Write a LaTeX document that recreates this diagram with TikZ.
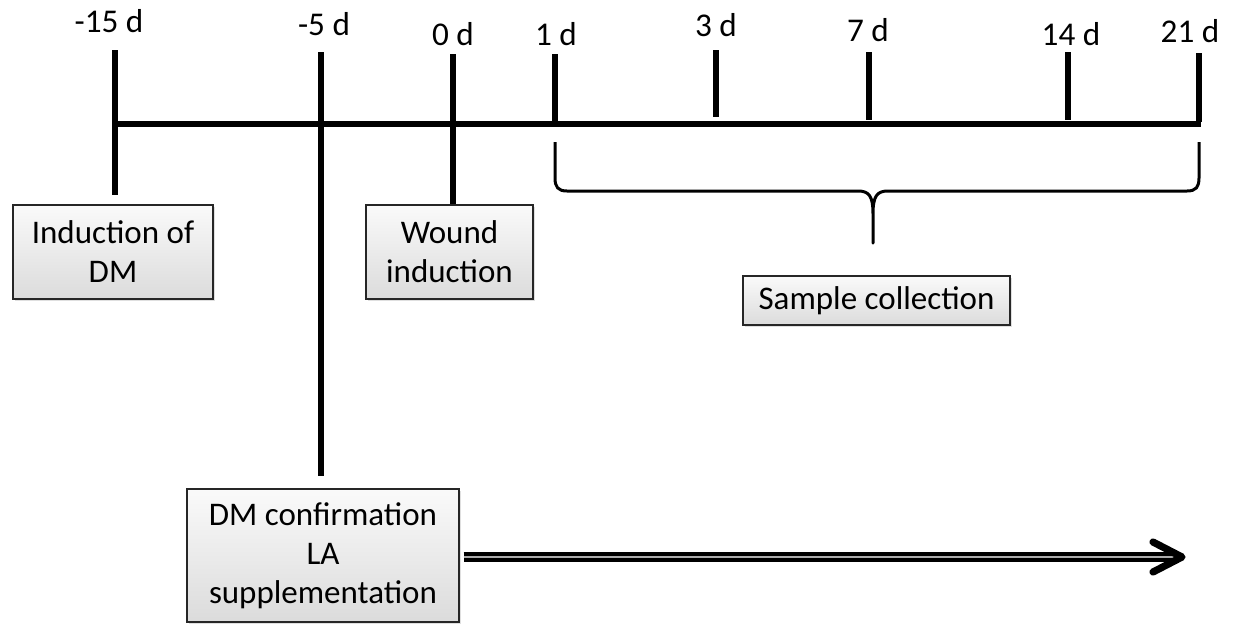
\documentclass[tikz,border=0pt]{standalone}
\usepackage{fontspec}
\setmainfont{Carlito}
\usetikzlibrary{shadows}
\begin{document}
\begin{tikzpicture}[x=0.5pt,y=-0.5pt,
  tick/.style={line width=2.6pt},
  axis/.style={line width=2.6pt},
  lbl/.style={anchor=base,inner sep=0pt,font=\fontsize{16.6}{19}\selectfont},
  box/.style={draw=black!85,line width=0.7pt,top color=gray!4,bottom color=gray!28,
    align=center,inner sep=0pt,font=\fontsize{16.5}{19.5}\selectfont,
    drop shadow={shadow xshift=1.2pt,shadow yshift=-1.2pt,opacity=0.25}},
  brace/.style={line width=1.5pt,line join=round},
  dbl/.style={draw=black,line width=1.8pt,double=gray!65,double distance=1.3pt},
  head/.style={line width=3.6pt,line cap=round,line join=round}]
\useasboundingbox (0,0) rectangle (1237,623);
% axis
\coordinate (aL) at (113,124);
\coordinate (aR) at (1201,124);
\draw[axis] (aL) -- (aR);
% tick coordinates
\coordinate (t15a) at (115,50);  \coordinate (t15b) at (115,195);
\coordinate (t5a)  at (321,52);  \coordinate (t5b)  at (321,476);
\coordinate (t0a)  at (453,54);  \coordinate (t0b)  at (453,205);
\coordinate (t1a)  at (555,54);  \coordinate (t1b)  at (555,124);
\coordinate (t3a)  at (716,50);  \coordinate (t3b)  at (716,117);
\coordinate (t7a)  at (869,52);  \coordinate (t7b)  at (869,120);
\coordinate (t14a) at (1068,52); \coordinate (t14b) at (1068,120);
\coordinate (t21a) at (1199,53); \coordinate (t21b) at (1199,122);
\foreach \t in {t15,t5,t0,t1,t3,t7,t14,t21}{\draw[tick] (\t a) -- (\t b);}
% labels
\node[lbl] (l15) at (109,32) {-15 d};
\node[lbl] (l5)  at (324,35) {-5 d};
\node[lbl] (l0)  at (453,45) {0 d};
\node[lbl] (l1)  at (556,45) {1 d};
\node[lbl] (l3)  at (716,36) {3 d};
\node[lbl] (l7)  at (868,41) {7 d};
\node[lbl] (l14) at (1071,45) {14 d};
\node[lbl] (l21) at (1190,42) {21 d};
% boxes
\node[box,minimum width=100pt,minimum height=47pt] (bDM) at (113,252) {Induction of\\DM};
\node[box,minimum width=83.5pt,minimum height=47pt] (bW) at (449.5,252) {Wound\\induction};
\node[box,minimum width=133.5pt,minimum height=24.5pt] (bS) at (876.5,300.5) {Sample collection};
\node[box,minimum width=136pt,minimum height=66.5pt] (bC) at (323,555.5) {DM confirmation\\LA\\supplementation};
% brace
\coordinate (bl) at (555,142);
\coordinate (br) at (1199,142);
\coordinate (bm) at (873,243);
\draw[brace] (bl) -- (555,178) .. controls (555,187) and (558,191) .. (567,191)
  -- (858,191) .. controls (869,191) and (873,196) .. (873,214) -- (bm)
  -- (873,214) .. controls (873,196) and (877,191) .. (888,191)
  -- (1187,191) .. controls (1196,191) and (1199,187) .. (1199,178) -- (br);
% double arrow
\coordinate (arS) at ([xshift=2pt]bC.east |- 0,557);
\coordinate (arE) at (1178,557);
\draw[dbl] (arS) -- (arE);
\draw[head] (1153,542) -- (1182,557) -- (1153,572);
\end{tikzpicture}
\end{document}
